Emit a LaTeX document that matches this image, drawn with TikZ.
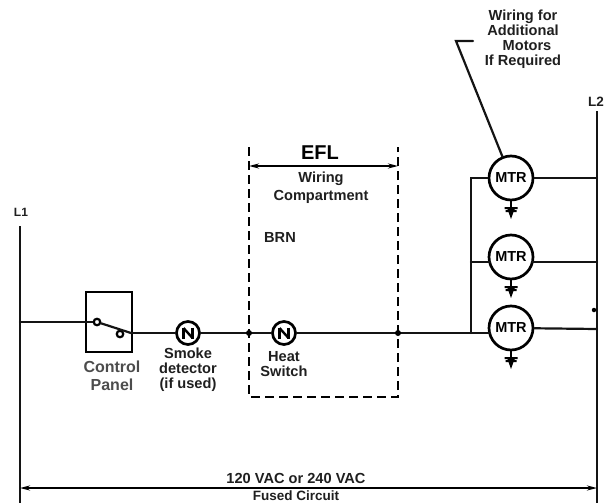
\documentclass[tikz,border=0pt]{standalone}
\usepackage{fontspec}
\setmainfont{Liberation Sans}
\usetikzlibrary{arrows.meta}
\tikzset{
  wire/.style={line width=2.2pt,black!92,line cap=round},
  thick wire/.style={line width=2.6pt,black!92},
  motor/.style={circle,draw=black,line width=2.7pt,fill=white,minimum size=44pt,inner sep=0pt,font=\bfseries\fontsize{14.5}{15}\selectfont},
  sensor/.style={circle,draw=black,line width=2.7pt,fill=white,minimum size=23pt,inner sep=0pt},
  lbl/.style={font=\bfseries\fontsize{14.6}{15}\selectfont,align=center,text=black!88,inner sep=0pt},
  dim/.style={line width=1.8pt,black,{Stealth[length=10pt,width=5pt]}-{Stealth[length=10pt,width=5pt]}},
  efl/.style={line width=2.5pt,black,dash pattern=on 9pt off 5pt},
  junction/.style={circle,fill=black,minimum size=6pt,inner sep=0pt},
  pivot/.style={circle,draw=black,line width=2.2pt,fill=white,minimum size=6.5pt,inner sep=0pt}
}
\newcommand{\gnd}[1]{%
  \draw[line width=2.2pt] (#1) -- ++(0,7);
  \fill (#1)++(-6.5,7) -- ++(13,0) -- ++(0,2) -- ++(-3,0) -- ++(0,1.2) -- ++(2,0) -- ++(0,1.8) -- ++(-3,0) -- ++(-2.5,7) -- ++(-2.5,-7) -- ++(-3,0) -- ++(0,-1.8) -- ++(2,0) -- ++(0,-1.2) -- ++(-3,0) -- cycle;}
\newcommand{\hsym}[1]{%
  \draw[line width=2.4pt] (#1)++(-4.5,-5.5) -- ++(0,11);
  \draw[line width=2.4pt] (#1)++(4.5,-5.5) -- ++(0,11);
  \draw[line width=2.4pt] (#1)++(-4.5,-5) -- ++(9,10);}
\begin{document}
\begin{tikzpicture}[x=1pt,y=-1pt]
\useasboundingbox (0,0) rectangle (612,503);
% rails
\coordinate (L1top) at (20,226); \coordinate (L1bot) at (20,503);
\coordinate (L2top) at (597,111); \coordinate (L2bot) at (597,503);
\draw[thick wire] (L1top) -- (L1bot);
\draw[thick wire] (L2top) -- (L2bot);
\node[lbl,font=\bfseries\fontsize{12}{12}\selectfont] (l1) at (21,212) {L1};
\node[lbl,font=\bfseries\fontsize{13.5}{14}\selectfont] (l2) at (596,102) {L2};
% control panel
\node[draw=black,line width=2.2pt,minimum width=46pt,minimum height=60pt,inner sep=0pt] (panel) at (109,322) {};
\coordinate (L1tap) at (20,322);
\node[pivot] (sw1) at (97,322) {};
\node[pivot] (sw2) at (120,334) {};
\draw[wire] (L1tap) -- (sw1);
\draw[wire] (sw1) -- (131,333);
% sensors, motors
\node[sensor] (smoke) at (188,333) {};
\node[sensor] (heat) at (284,333) {};
\node[motor] (m1) at (511,178) {MTR};
\node[motor] (m2) at (511,257) {MTR};
\node[motor] (m3) at (511,328) {MTR};
\coordinate (busTop) at (471,178);
\coordinate (busMid) at (471,262);
\coordinate (busBot) at (471,333);
% main line
\coordinate (a) at (131,333);
\coordinate (efll) at (249,333);
\coordinate (eflr) at (398,333);
\draw[wire] (a) -- (smoke);
\draw[wire] (smoke) -- (efll);
\draw[wire] (efll) -- (heat);
\draw[wire] (heat) -- (eflr);
\draw[wire] (eflr) -- (busBot);
\draw[wire] (busBot) -- (490,333);
\draw[wire] (busBot) -- (busTop) -- (m1);
\draw[wire] (busMid) -- (490,262);
\draw[wire] (m1) -- (597,178);
\draw[wire] (532,262) -- (597,262);
\draw[wire] (m3) -- (597,329);
\hsym{smoke}
\hsym{heat}
\gnd{511,200}
\gnd{511,279}
\gnd{511,350}
\node[circle,fill=black,minimum size=4.5pt,inner sep=0pt] (tick) at (594,310) {};
% EFL box
\coordinate (bx1) at (249,147); \coordinate (bx2) at (398,147);
\coordinate (bx3) at (398,397); \coordinate (bx4) at (249,397);
\draw[efl] (bx1) -- (bx4) -- (bx3) -- (bx2);
\node[junction] (j1) at (efll) {};
\node[junction] (j2) at (eflr) {};
\coordinate (dl) at (249,166); \coordinate (dr) at (398,166);
\draw[dim] (dl) -- (dr);
\node[lbl,font=\bfseries\fontsize{20}{20}\selectfont,text=black] (efltxt) at (320,153) {EFL};
\node[lbl,font=\bfseries\fontsize{14.6}{18}\selectfont] (wc) at (321,188) {Wiring\\Compartment};
\node[lbl] (brn) at (280,237) {BRN};
\node[lbl] (hs) at (284,364) {Heat\\Switch};
\node[lbl,font=\bfseries\fontsize{16}{18}\selectfont,text=black!70] (cp) at (112,376) {Control\\Panel};
\node[lbl] (sd) at (188,370) {Smoke\\detector\\(if used)};
% leader
\node[lbl] (add) at (523,39) {Wiring for\\Additional\\\hspace*{8pt}Motors\\If Required};
\coordinate (lead0) at (473,41); \coordinate (lead1) at (456,41);
\draw[wire] (lead0) -- (lead1) -- (m1);
% dimension
\coordinate (d1) at (20,488); \coordinate (d2) at (597,488);
\draw[dim] (d1) -- (d2);
\node[lbl] (v) at (296,478) {120 VAC or 240 VAC};
\node[lbl,font=\bfseries\fontsize{13.5}{14}\selectfont] (f) at (296,496) {Fused Circuit};
\end{tikzpicture}
\end{document}
